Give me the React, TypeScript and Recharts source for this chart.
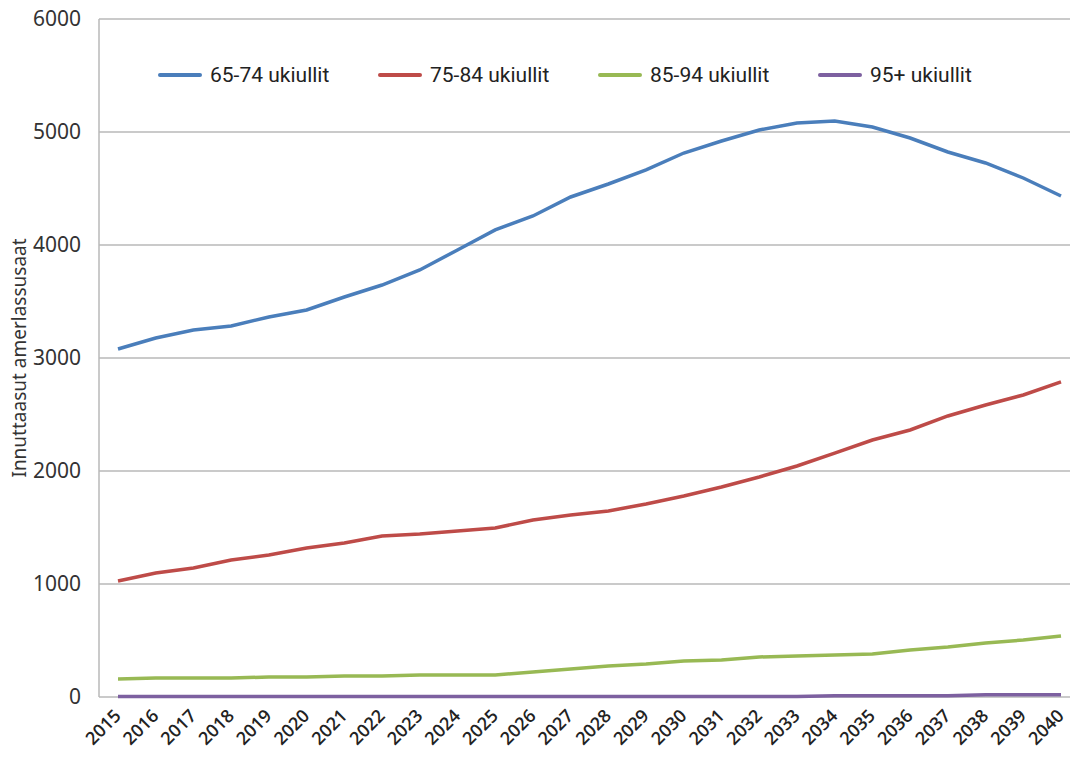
import { LineChart, Line, XAxis, YAxis, CartesianGrid } from 'recharts';

const years = [
  '2015', '2016', '2017', '2018', '2019', '2020', '2021', '2022', '2023', '2024', '2025', '2026', '2027',
  '2028', '2029', '2030', '2031', '2032', '2033', '2034', '2035', '2036', '2037', '2038', '2039', '2040',
];

const age6574 = [
  3080, 3177, 3248, 3283, 3363, 3425, 3540, 3646, 3779, 3956, 4133, 4257, 4425,
  4540, 4664, 4814, 4920, 5018, 5080, 5097, 5044, 4947, 4823, 4726, 4593, 4434,
];
const age7584 = [
  1027, 1097, 1142, 1212, 1257, 1319, 1363, 1425, 1442, 1469, 1496, 1566, 1611,
  1646, 1708, 1779, 1858, 1947, 2044, 2159, 2274, 2363, 2487, 2584, 2673, 2788,
];
const age8594 = [
  160, 168, 168, 168, 177, 177, 186, 186, 195, 195, 195, 221, 248,
  274, 292, 319, 327, 354, 363, 372, 380, 416, 442, 478, 504, 540,
];
const age95 = [
  5, 5, 5, 5, 5, 5, 5, 5, 5, 5, 5, 5, 5,
  5, 5, 5, 5, 5, 5, 10, 10, 10, 12, 20, 20, 20,
];

const yTicks = [0, 1000, 2000, 3000, 4000, 5000, 6000];

const series = [
  { key: 'a', name: '65-74 ukiullit', color: '#4a7ebb' },
  { key: 'b', name: '75-84 ukiullit', color: '#be4b48' },
  { key: 'c', name: '85-94 ukiullit', color: '#98b954' },
  { key: 'd', name: '95+ ukiullit', color: '#7d60a0' },
];

const data = years.map((year, i) => ({
  year,
  a: age6574[i],
  b: age7584[i],
  c: age8594[i],
  d: age95[i],
}));

const YearTick = ({ x, y, payload }: any) => (
  <text
    x={x + 4}
    y={y + 12}
    transform={`rotate(-45, ${x + 4}, ${y + 12})`}
    textAnchor="end"
    fontSize={18}
    fontWeight={600}
    fill="#222"
    fontFamily="'Open Sans', sans-serif"
  >
    {payload.value}
  </text>
);

// legend sits inside the plot, drawn as an overlay so it doesn't shift the plot area
const LegendRow = () => (
  <div style={{ position: 'absolute', top: 63, left: 158, display: 'flex', fontFamily: "'Roboto', sans-serif" }}>
    {series.map((s) => (
      <div key={s.key} style={{ display: 'flex', alignItems: 'center', width: 220 }}>
        <div style={{ width: 44, height: 4, borderRadius: 2, background: s.color, marginRight: 8 }} />
        <span style={{ fontSize: 21, color: '#222' }}>{s.name}</span>
      </div>
    ))}
  </div>
);

export default function App() {
  return (
    <div style={{ position: 'absolute', left: 0, top: 0, width: 1070, height: 758, overflow: 'hidden', background: '#fff' }}>
      <LineChart width={1080} height={758} data={data} margin={{ top: 19, right: 0, bottom: 0, left: 0 }}>
        <CartesianGrid vertical={false} stroke="#b8b8b8" strokeWidth={1.5} />
        <XAxis
          dataKey="year"
          height={61}
          padding={{ left: 19, right: 19 }}
          axisLine={false}
          tickLine={false}
          interval={0}
          tick={<YearTick />}
        />
        <YAxis
          width={99}
          domain={[0, 6000]}
          ticks={yTicks}
          axisLine={{ stroke: '#b8b8b8', strokeWidth: 1.5 }}
          tickLine={false}
          tickMargin={12}
          tick={{ fontSize: 21, fill: '#333', fontFamily: "'Noto Sans', sans-serif" }}
          label={{
            value: 'Innuttaasut amerlassusaat',
            angle: -90,
            position: 'insideLeft',
            dx: 14,
            dy: 0,
            style: { textAnchor: 'middle', fontSize: 19, fill: '#333', fontFamily: "'Noto Sans', sans-serif" },
          }}
        />
        {series.map((s) => (
          <Line
            key={s.key}
            dataKey={s.key}
            name={s.name}
            type="linear"
            stroke={s.color}
            strokeWidth={3.5}
            dot={false}
            isAnimationActive={false}
          />
        ))}
      </LineChart>
      <LegendRow />
    </div>
  );
}
